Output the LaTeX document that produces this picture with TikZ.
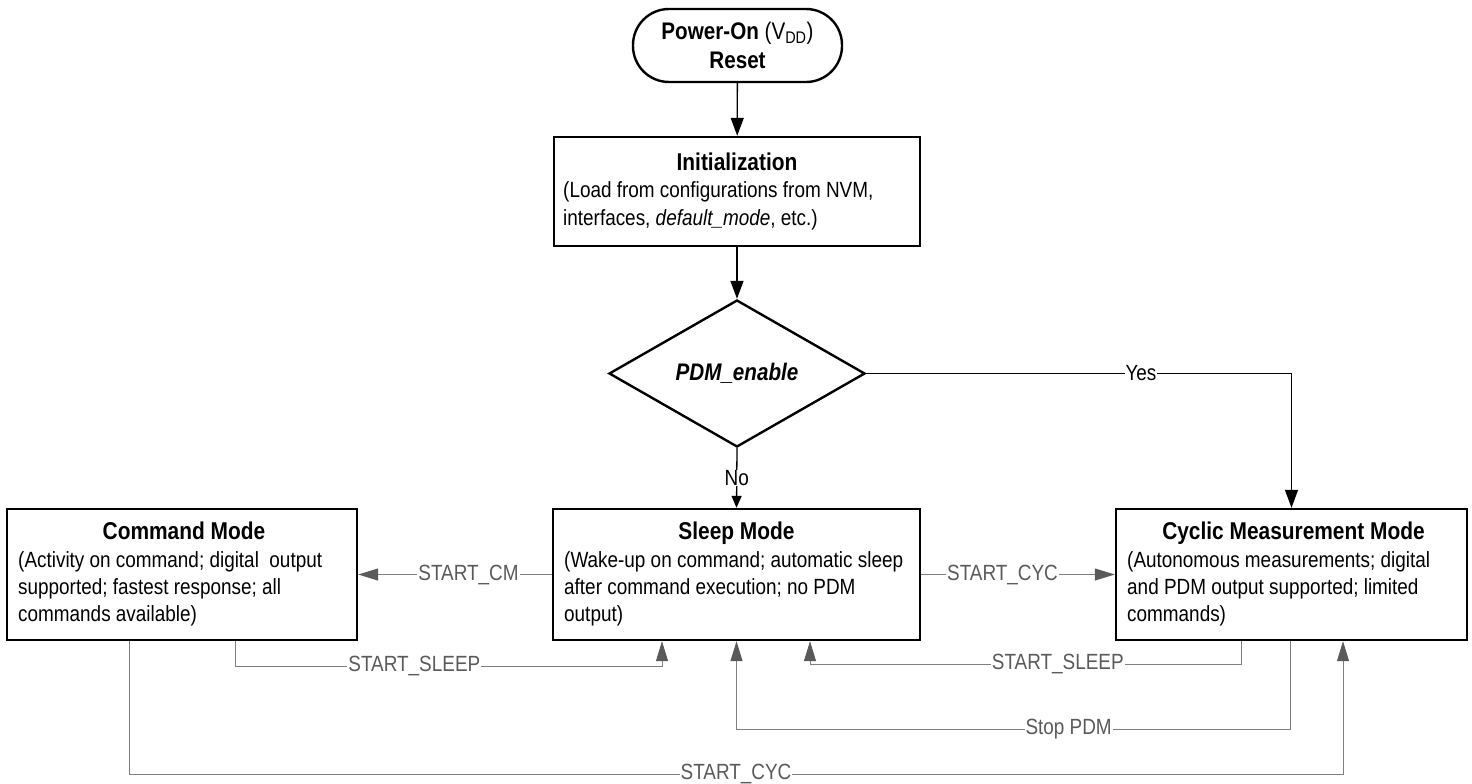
\documentclass[tikz,border=0pt]{standalone}
\usepackage{fontspec}
\setmainfont{Liberation Sans}[FakeStretch=0.86]
\usetikzlibrary{arrows.meta,shapes.geometric}
\definecolor{lgray}{HTML}{808080}
\definecolor{tgray}{HTML}{5A5A5A}
\begin{document}
\begin{tikzpicture}[x=1pt,y=-1pt,
  every node/.style={font=\fontsize{22}{27}\selectfont},
  boxst/.style={draw,line width=2.4pt,inner sep=0pt},
  ttl/.style={font=\fontsize{24.3}{27}\selectfont\bfseries,anchor=base,inner sep=0pt},
  body/.style={align=left,anchor=base west,inner sep=0pt},
  flow/.style={line width=1.3pt,-{Triangle[length=18pt,width=13pt]}},
  flowsmall/.style={line width=1.3pt,-{Triangle[length=12pt,width=10pt]}},
  trans/.style={draw=lgray,line width=1pt,-{Triangle[length=20pt,width=12pt,color=tgray]}},
  lbl/.style={fill=white,text=tgray,font=\fontsize{22}{22}\selectfont,inner xsep=1pt,inner ysep=0pt},
  lblk/.style={fill=white,text=black,font=\fontsize{22}{22}\selectfont,inner xsep=1pt,inner ysep=0pt}
]
\useasboundingbox (0,0) rectangle (1472,784);

% Power-on terminal
\node[boxst,rounded corners=36pt,minimum width=209pt,minimum height=73pt,align=center,
      font=\fontsize{24}{29.5}\selectfont] (pwr) at (737.5,45.5)
  {\textbf{Power-On} (V\textsubscript{DD})\\\textbf{Reset}};

% Initialization
\node[boxst,minimum width=366pt,minimum height=109pt] (init) at (737,191.5) {};
\node[ttl] (initt) at (737,170) {Initialization};
\node[body,font=\fontsize{22}{28}\selectfont] (initb) at (563,225)
  {(Load from configurations from NVM,\\interfaces, \textit{default\_mode}, etc.)};

% Decision
\node[diamond,boxst,minimum width=256pt,minimum height=147pt] (dec) at (737,373.5) {};
\node[font=\fontsize{24}{24}\selectfont\bfseries\itshape,inner sep=0pt] (dect) at (737,373.5) {PDM\_enable};

% Mode boxes
\node[boxst,minimum width=350pt,minimum height=131pt] (cm) at (182,574.5) {};
\node[ttl] (cmt) at (184,539) {Command Mode};
\node[body] (cmb) at (18,621.5)
  {(Activity on command; digital~ output\\supported; fastest response; all\\commands available)};

\node[boxst,minimum width=367pt,minimum height=131pt] (sl) at (736.5,574.5) {};
\node[ttl] (slt) at (736.5,539) {Sleep Mode};
\node[body] (slb) at (564,621.5)
  {(Wake-up on command; automatic sleep\\after command execution; no PDM\\output)};

\node[boxst,minimum width=351pt,minimum height=131pt] (cy) at (1291.5,574.5) {};
\node[ttl] (cyt) at (1293.5,539) {Cyclic Measurement Mode};
\node[body] (cyb) at (1127,621.5)
  {(Autonomous measurements; digital\\and PDM output supported; limited\\commands)};

% Black flow connectors
\draw[flow] (pwr) -- (init);
\draw[flow] (init) -- (dec);
\draw[flow] (dec.east) -| node[lblk,pos=0.323]{Yes} (cy.north);
\draw[flowsmall] (dec.south) -- node[lblk]{No} (sl.north);

% Gray transitions
\draw[trans] (sl.west) -- node[lbl,pos=0.43]{START\_CM} (cm.east);
\draw[trans] (sl.east) -- node[lbl,pos=0.42]{START\_CYC} (cy.west);
\draw[trans] ([xshift=53pt]cm.south) -- (235,666) -- node[lbl,pos=0.42]{START\_SLEEP} (662,666) -- ([xshift=-74.5pt]sl.south);
\draw[trans] ([xshift=-50.5pt]cy.south) -- (1241,664) -- node[lbl,pos=0.425]{START\_SLEEP} (810,664) -- ([xshift=73.5pt]sl.south);
\draw[trans] ([xshift=-1.5pt]cy.south) -- (1290,729) -- node[lbl,pos=0.40]{Stop PDM} (736.5,729) -- (sl.south);
\draw[trans] ([xshift=-53pt]cm.south) -- (129,774) -- node[lbl,pos=0.5]{START\_CYC} (1343,774) -- ([xshift=51.5pt]cy.south);
\end{tikzpicture}
\end{document}
